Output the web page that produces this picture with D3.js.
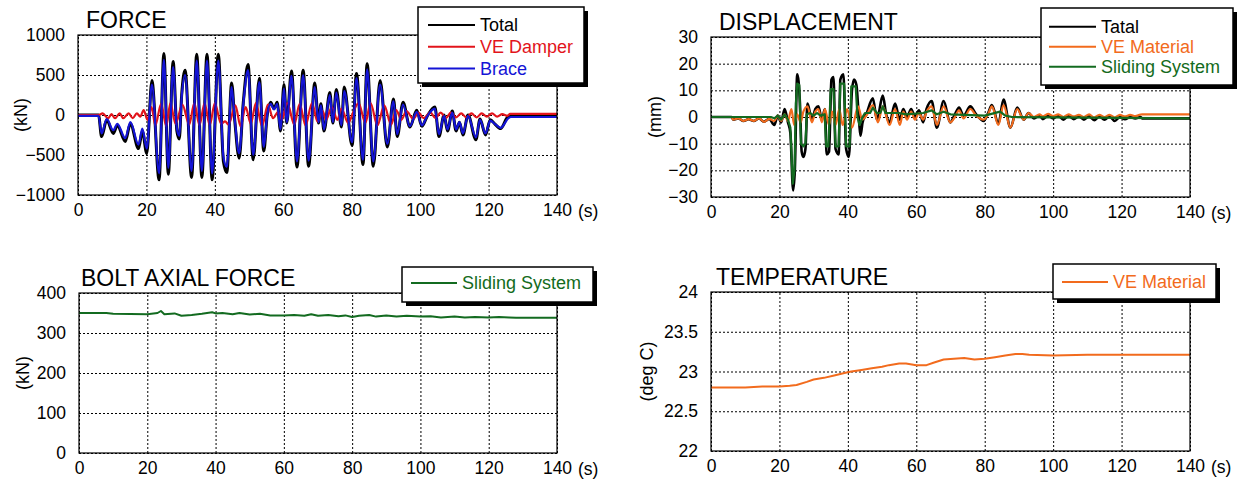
<!DOCTYPE html>
<html>
<head>
<meta charset="utf-8">
<script src="https://d3js.org/d3.v7.min.js"></script>
<style>
body { margin: 0; background: #fff; }
svg text { font-family: "Liberation Sans", Arial, Helvetica, sans-serif; }
</style>
</head>
<body>
<svg id="chart" width="1244" height="480"></svg>
<script>
// time axis shared by the four panels
var timeTicks = [0, 20, 40, 60, 80, 100, 120, 140];

var forceTicks = [-1000, -500, 0, 500, 1000];
var dispTicks = [-30, -20, -10, 0, 10, 20, 30];
var boltTicks = [0, 100, 200, 300, 400];
var tempTicks = [22, 22.5, 23, 23.5, 24];

var forceNames = ["Total", "VE Damper", "Brace"];
var dispNames = ["Tatal", "VE Material", "Sliding System"];
var boltNames = ["Sliding System"];
var tempNames = ["VE Material"];

// [time (s), value]
var forceTotal = [[0,0],[6,0],[6.9,-270],[8.4,-60],[10.3,-230],[11.5,-130],[13.8,-330],[15.3,-110],[17.7,-420],[18.8,-200],[20.1,-480],[21.6,430],[23.7,-810],[25.1,770],[26.4,-740],[27.8,670],[28.9,-200],[29.6,-300],[30.3,250],[31.3,560],[33.2,-780],[34.7,760],[36.2,-780],[37.7,760],[39.2,-810],[41,760],[42.5,-580],[43.5,-720],[44.9,400],[45.8,-60],[47.1,-540],[48.3,150],[49.7,630],[51.2,-560],[53,460],[54.3,-450],[55.3,0],[56.3,160],[57.3,80],[58.2,160],[59.2,-200],[60.2,380],[61,-100],[62.4,550],[64,-650],[65.8,560],[67.4,-640],[69.2,400],[70.3,-100],[71,140],[71.9,-200],[73.6,280],[74.5,-100],[75.5,320],[77,-150],[77.8,350],[80.1,-380],[81.4,520],[83.3,-620],[84.5,640],[86.3,-640],[88.3,430],[90.4,-400],[92.2,200],[93.3,-270],[95,160],[97,-150],[99,60],[100.5,-140],[102,-20],[104.3,100],[105.5,-270],[107,0],[108,-200],[109.4,50],[110.5,-200],[111.5,-90],[112.5,-250],[114,0],[116.3,-310],[117.5,-50],[119.1,-250],[120.5,-60],[121.8,-110],[123.5,-170],[125.8,-20],[126.5,-20],[140,-20]];
var forceDamper = [[0,0],[6,0],[7.2,20],[8.8,-40],[9.8,10],[10.8,-40],[12.2,20],[13.2,-40],[14.8,20],[16,-40],[17.2,20],[18.2,-20],[19.2,60],[20.3,-60],[21.5,100],[22.6,-130],[24.3,140],[25.8,-140],[27,150],[28.5,-110],[30.5,130],[32.5,-120],[34,150],[35.5,-130],[37,150],[38.5,-130],[40,150],[41.8,-110],[43,-80],[44,-120],[46,120],[47.5,-140],[49,100],[50.5,-110],[52,150],[53.8,-140],[55.5,130],[57,-40],[58.5,40],[59.5,-60],[61.2,150],[63.2,-120],[64.8,140],[66.5,-130],[68.4,150],[70,-80],[71.5,50],[72.5,-60],[74.2,100],[75.8,-60],[77,80],[79,-100],[80.5,40],[82,150],[84,-100],[85.5,150],[87.5,-130],[89.5,120],[91.5,-120],[93,60],[94.5,-60],[96,50],[98,-50],[99.5,30],[101,-40],[103,30],[104.5,-40],[106,30],[107.5,-40],[109,30],[110.5,-30],[112,20],[113.5,-30],[115,20],[116.5,-30],[118,20],[119.5,-20],[121,20],[122.5,-20],[124,10],[125.5,-10],[126.3,15],[140,15]];
var forceBrace = [[0,-10],[6,-10],[6.9,-230],[8.4,-50],[10.3,-190],[11.5,-110],[13.8,-290],[15.3,-90],[17.7,-370],[18.8,-170],[20.1,-420],[21.6,380],[23.7,-730],[25.1,690],[26.4,-660],[27.8,600],[28.9,-170],[29.6,-260],[30.3,220],[31.3,500],[33.2,-700],[34.7,680],[36.2,-700],[37.7,680],[39.2,-730],[41,680],[42.5,-520],[43.5,-650],[44.9,350],[45.8,-50],[47.1,-480],[48.3,130],[49.7,560],[51.2,-500],[53,410],[54.3,-400],[55.3,0],[56.3,140],[57.3,70],[58.2,140],[59.2,-180],[60.2,330],[61,-90],[62.4,490],[64,-580],[65.8,500],[67.4,-570],[69.2,350],[70.3,-90],[71,120],[71.9,-180],[73.6,250],[74.5,-90],[75.5,280],[77,-130],[77.8,300],[80.1,-340],[81.4,460],[83.3,-560],[84.5,570],[86.3,-580],[88.3,380],[90.4,-360],[92.2,170],[93.3,-240],[95,130],[97,-140],[99,40],[100.5,-130],[102,-20],[104.3,80],[105.5,-240],[107,-10],[108,-180],[109.4,30],[110.5,-180],[111.5,-90],[112.5,-230],[114,-10],[116.3,-280],[117.5,-60],[119.1,-230],[120.5,-70],[121.8,-110],[123.5,-160],[125.8,-40],[126.5,-25],[140,-25]];

var dispTotal = [[0,0],[6,0],[6.5,-1],[8,-0.5],[9.5,-1.5],[11,-0.8],[12.5,-1.5],[14,-0.5],[15.5,-1.8],[17,-0.7],[18.5,-3],[19.5,0.5],[20.5,-2],[21.5,3],[22.5,-2],[23.2,-6],[24,-27.5],[24.5,-20],[25.2,16],[26,5],[26.5,-13],[27,-15],[27.6,-12],[28.2,5],[29.5,-1],[30.5,3],[31.4,4],[32.4,-1],[33.3,3],[33.8,-14],[34.5,-13],[35.2,14],[35.8,15],[36.4,-12],[37.3,-14],[37.8,14],[38.7,16],[39.5,-12],[40.3,-15],[41.2,10],[41.8,14],[42.5,12],[43.3,-2],[43.7,-7],[44.3,-2],[45.4,1],[47.3,7],[48.5,-1],[50.2,8],[51.2,1],[52.2,-2],[53.8,5],[55.2,-1],[56.2,3],[57.3,0],[58.5,3],[59.6,0],[60.8,2.5],[62,-2],[63,3],[64.5,6],[66,-4],[68,6],[69.9,-2],[71.3,1],[72.5,3.5],[73.8,0.5],[75.8,4],[77.5,1],[79.7,-1.5],[81,1.5],[82.1,4.5],[84,-2.5],[85.5,6.5],[87.5,-4],[89.5,3.5],[91.4,-1],[92.8,1.5],[94.4,-0.5],[96,0.5],[97,-0.8],[98.5,0.5],[100,-0.5],[101.5,0.5],[103,-1],[104.5,0.5],[106,-0.8],[107.5,0.3],[109,-1],[110.5,0.3],[112,-1.2],[113.5,0.2],[115,-1],[116.5,0.2],[118,-1.5],[119.5,0],[121,-0.8],[122.5,0],[124,-0.5],[125.5,0],[126,-0.5],[140,-0.5]];
var dispVE = [[0,0],[6,0],[6.5,-1],[8,-0.5],[9.5,-1.5],[11,-0.8],[12.5,-1.5],[14,-0.5],[15.5,-1.8],[17,-0.7],[18.5,-1.5],[19.5,0.5],[20.5,-1.5],[21.5,1],[22.5,-1.5],[23.5,3],[24.3,-3],[25.2,1],[26.2,-2],[27,2],[28.2,4],[29.5,-2],[30.5,2],[31.4,3],[32.4,-2],[33.3,3],[34.5,-3],[35.4,2],[36.4,-3],[37.5,3],[38.5,-3],[39.8,3],[41.2,-4],[43,4],[44.2,-1],[45.4,0.5],[47.3,4.5],[48.8,-2],[50.2,4],[52.2,-3],[53.8,3],[55.2,-3],[56.2,2],[57.3,-1],[58.5,2],[59.6,-1],[60.8,1.5],[62,-1],[63,2],[64.5,4],[66,-3],[68,4],[69.9,-2],[71.3,0],[72.5,2.5],[73.8,-0.5],[75.8,3],[77.5,0.5],[79.7,-1],[81,1],[82.1,4],[84,-3],[85.5,4.5],[87.5,-4],[89.5,3],[91.4,-1],[92.8,1.5],[94.4,0],[96,1],[97,0.2],[98.5,1.2],[100,0.3],[101.5,1],[103,0],[104.5,1],[106,0.2],[107.5,0.8],[109,0],[110.5,1],[112,-0.2],[113.5,0.8],[115,0],[116.5,0.8],[118,-0.2],[119.5,0.8],[121,0.2],[122.5,0.8],[124,0.3],[125.5,0.9],[126,1],[140,1]];
var dispSliding = [[0,0],[17.5,0],[18.5,-0.5],[19.5,0.5],[20.5,-1],[21.5,1],[22.5,-1],[23.2,-4],[23.9,-25],[24.4,-20],[24.8,5],[25.2,12.5],[25.8,12],[26.3,-10],[27,-11],[27.6,-10],[28,1],[29,1.5],[30,0.5],[31,1.5],[32,0.5],[33.2,1],[33.7,-11],[34.3,-11],[35,10.5],[35.8,10.5],[36.4,-11],[37.3,-11],[37.8,12.5],[38.9,12.5],[39.5,-11],[40.5,-11],[41,11.5],[42.3,11.5],[42.8,0],[43.4,-3],[44.3,0],[45,1.5],[46.5,1.5],[47.3,3.5],[48.5,1.5],[49.5,1.5],[50.2,4],[51,1.5],[55,1.5],[57,1],[62,1.5],[64.5,2.5],[66,1],[68,2],[70,1],[80,0.5],[84.5,2],[86,0.5],[88,0],[140,-0.5]];

var boltForce = [[0,350],[8,350],[10,348],[20,347],[23,350],[24,355],[25,347],[28,349],[30,343],[33,345],[36,348],[39,352],[40,349],[42,350],[45,347],[47,350],[50,346],[53,348],[56,344],[60,344],[63,345],[66,343],[68,347],[70,343],[73,345],[76,342],[78,344],[80,340],[82,343],[85,345],[87,341],[90,344],[93,341],[96,343],[100,341],[103,342],[106,339],[110,341],[113,339],[116,340],[120,339],[123,340],[126,339],[128,338],[140,338]];

var veTemp = [[0,22.8],[5,22.8],[10,22.8],[15,22.81],[20,22.81],[23,22.82],[25,22.83],[28,22.87],[30,22.9],[33,22.92],[36,22.95],[39,22.98],[41,23.0],[44,23.02],[47,23.04],[50,23.06],[52,23.08],[55,23.1],[57,23.1],[60,23.08],[63,23.08],[65,23.11],[68,23.15],[71,23.16],[74,23.17],[77,23.15],[80,23.16],[83,23.18],[86,23.2],[89,23.22],[91,23.22],[93,23.21],[100,23.2],[110,23.21],[120,23.21],[130,23.21],[140,23.21]];

var svg = d3.select("#chart");
var clipId = 0;

function drawPanel(opt) {
    var x = d3.scaleLinear().domain([0, 140]).range([opt.left, opt.right]);
    var y = d3.scaleLinear().domain(opt.yDomain).range([opt.bottom, opt.top]);
    var h = opt.bottom - opt.top;
    var w = opt.right - opt.left;
    var g = svg.append("g");

    // x axis with dotted grid
    var xAxis = d3.axisBottom(x).tickValues(timeTicks).tickSize(-h).tickPadding(9);
    var gx = g.append("g")
        .attr("transform", "translate(0," + opt.bottom + ")")
        .call(xAxis);
    var yAxis = d3.axisLeft(y).tickValues(opt.yTicks).tickSize(-w).tickPadding(13)
        .tickFormat(d3.format(""));
    var gy = g.append("g")
        .attr("transform", "translate(" + opt.left + ",0)")
        .call(yAxis);

    [gx, gy].forEach(function(a) {
        a.select(".domain").remove();
        a.attr("font-size", 17.5).attr("font-family", null);
        a.selectAll("text").attr("fill", "#000");
        a.selectAll("line")
            .attr("stroke", "#000")
            .attr("stroke-width", 1)
            .attr("stroke-dasharray", "2,2");
    });

    g.append("text")
        .attr("x", opt.right + 21)
        .attr("y", opt.bottom + 22)
        .attr("font-size", 17.5)
        .text("(s)");

    // clipped data lines
    clipId++;
    svg.append("clipPath").attr("id", "clip" + clipId)
        .append("rect")
        .attr("x", opt.left).attr("y", opt.top)
        .attr("width", w).attr("height", h);

    var lineG = g.append("g").attr("clip-path", "url(#clip" + clipId + ")");
    opt.series.forEach(function(s) {
        var line = d3.line()
            .x(function(d) { return x(d[0]); })
            .y(function(d) { return y(d[1]); })
            .curve(s.curve || d3.curveMonotoneX);
        lineG.append("path")
            .datum(s.data)
            .attr("fill", "none")
            .attr("stroke", s.color)
            .attr("stroke-width", s.width || 2)
            .attr("stroke-linejoin", "round")
            .attr("d", line);
    });

    // frame
    g.append("rect")
        .attr("x", opt.left).attr("y", opt.top)
        .attr("width", w).attr("height", h)
        .attr("fill", "none")
        .attr("stroke", "#000")
        .attr("stroke-width", 1.2);

    g.append("text")
        .attr("x", opt.titleX)
        .attr("y", opt.top - 7)
        .attr("font-size", 23)
        .text(opt.title);

    g.append("text")
        .attr("transform", "translate(" + opt.labelX + "," + (opt.top + h / 2) + ") rotate(-90)")
        .attr("text-anchor", "middle")
        .attr("dy", "0.35em")
        .attr("font-size", 18)
        .text(opt.yLabel);

    // legend box with drop shadow
    var lg = opt.legend;
    g.append("rect")
        .attr("x", lg.x + 4).attr("y", lg.y + 4)
        .attr("width", lg.w).attr("height", lg.h)
        .attr("fill", "#000");
    g.append("rect")
        .attr("x", lg.x).attr("y", lg.y)
        .attr("width", lg.w).attr("height", lg.h)
        .attr("fill", "#fff")
        .attr("stroke", "#000")
        .attr("stroke-width", 1.5);
    opt.series.forEach(function(s, i) {
        var ry = lg.row0 + i * lg.step;
        g.append("line")
            .attr("x1", lg.x1).attr("x2", lg.x2)
            .attr("y1", ry).attr("y2", ry)
            .attr("stroke", s.color)
            .attr("stroke-width", 2);
        g.append("text")
            .attr("x", lg.x2 + 5)
            .attr("y", ry)
            .attr("dy", "0.35em")
            .attr("font-size", 18)
            .attr("fill", s.textColor)
            .text(opt.names[i]);
    });
}

drawPanel({
    title: "FORCE", titleX: 86, yLabel: "(kN)", labelX: 21,
    left: 78, right: 557, top: 35, bottom: 195,
    yDomain: [-1000, 1000], yTicks: forceTicks, names: forceNames,
    series: [
        { data: forceTotal, color: "#000", textColor: "#000", width: 3 },
        { data: forceDamper, color: "#e2141b", textColor: "#e2141b", width: 2.2 },
        { data: forceBrace, color: "#1414d6", textColor: "#1414d6", width: 2.2 }
    ],
    legend: { x: 418, y: 7, w: 166, h: 76, x1: 428, x2: 475, row0: 25, step: 21.7 }
});

drawPanel({
    title: "DISPLACEMENT", titleX: 719, yLabel: "(mm)", labelX: 655,
    left: 711, right: 1190, top: 37, bottom: 197,
    yDomain: [-30, 30], yTicks: dispTicks, names: dispNames,
    series: [
        { data: dispTotal, color: "#000", textColor: "#000", width: 2.6 },
        { data: dispVE, color: "#f26b1d", textColor: "#f26b1d", width: 2.2 },
        { data: dispSliding, color: "#136b20", textColor: "#136b20", width: 2.2, curve: d3.curveLinear }
    ],
    legend: { x: 1041, y: 8, w: 192, h: 77, x1: 1049, x2: 1096, row0: 26.7, step: 20 }
});

drawPanel({
    title: "BOLT AXIAL FORCE", titleX: 81, yLabel: "(kN)", labelX: 23,
    left: 79, right: 557, top: 293, bottom: 453,
    yDomain: [0, 400], yTicks: boltTicks, names: boltNames,
    series: [
        { data: boltForce, color: "#136b20", textColor: "#136b20", width: 2, curve: d3.curveLinear }
    ],
    legend: { x: 402, y: 267, w: 191, h: 35, x1: 411, x2: 457, row0: 283, step: 0 }
});

drawPanel({
    title: "TEMPERATURE", titleX: 716, yLabel: "(deg C)", labelX: 647,
    left: 711, right: 1190, top: 292, bottom: 451,
    yDomain: [22, 24], yTicks: tempTicks, names: tempNames,
    series: [
        { data: veTemp, color: "#f26b1d", textColor: "#f26b1d", width: 2, curve: d3.curveLinear }
    ],
    legend: { x: 1053, y: 264, w: 163, h: 35, x1: 1062, x2: 1108, row0: 282, step: 0 }
});
</script>
</body>
</html>
